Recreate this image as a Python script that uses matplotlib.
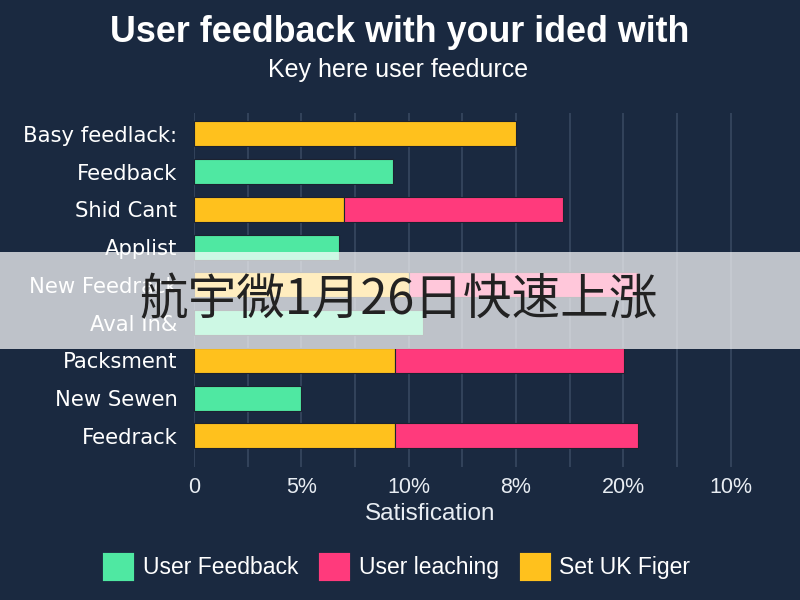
import matplotlib
matplotlib.use("Agg")
import matplotlib.pyplot as plt
from matplotlib.patches import Patch, Rectangle
import numpy as np

categories = ["Basy feedlack:", "Feedback", "Shid Cant", "Applist", "New Feedrack",
              "Aval In&", "Packsment", "New Sewen", "Feedrack"]
user_feedback = [0, 9.25, 0, 6.75, 0, 10.65, 0, 5.0, 0]
set_uk_figer = [15.0, 0, 7.0, 0, 10.0, 0, 9.35, 0, 9.35]
user_leaching = [0, 0, 10.2, 0, 10.7, 0, 10.7, 0, 11.35]
xtick_values = [0, 5, 10, 15, 20, 25]
xtick_labels = ["0", "5%", "10%", "8%", "20%", "10%"]
series_names = ["User Feedback", "User leaching", "Set UK Figer"]

BG = "#1a2940"
GREEN = "#4fe8a2"
PINK = "#ff3a7c"
YELLOW = "#ffc11d"
GRID = "#3a4a63"

plt.rcParams["font.family"] = ["Liberation Sans", "DejaVu Sans"]

fig = plt.figure(figsize=(8, 6), dpi=100, facecolor=BG)
ax = fig.add_axes([0.2425, 0.222, 0.672, 0.590])
ax.set_facecolor(BG)

y = np.arange(len(categories))
fb = np.array(user_feedback)
uk = np.array(set_uk_figer)
ul = np.array(user_leaching)
h = 0.66
edge = dict(edgecolor="#1c2230", linewidth=0.8)

m = fb > 0
ax.barh(y[m], fb[m], height=h, color=GREEN, zorder=3, **edge)
m = uk > 0
ax.barh(y[m], uk[m], height=h, color=YELLOW, zorder=3, **edge)
m = ul > 0
ax.barh(y[m], ul[m], left=uk[m], height=h, color=PINK, zorder=3, **edge)

ax.set_xlim(0, 25.05)
ax.set_ylim(len(categories) - 1 + 0.82, -0.56)
ax.set_yticks(y)
ax.set_yticklabels(categories, color="white", fontsize=15.2, family=["DejaVu Sans"])
ax.set_xticks(xtick_values)
ax.set_xticklabels(xtick_labels, color="#e8edf3", fontsize=15.5)
ax.set_xticks(np.arange(0, 25.1, 2.5), minor=True)
ax.tick_params(axis="both", which="both", length=0)
ax.tick_params(axis="y", pad=12)
ax.tick_params(axis="x", pad=7)
ax.grid(True, axis="x", which="both", color=GRID, linewidth=1.1, zorder=0)
for s in ax.spines.values():
    s.set_visible(False)
fig.text(0.5375, 1 - 514 / 600, "Satisfication", ha="center", va="center",
         color="#e8edf3", fontsize=17.5)

fig.text(0.5, 1 - 33 / 600, "User feedback with your ided with", ha="center", va="center",
         color="white", fontsize=25.8, fontweight="bold")
fig.text(0.4975, 1 - 70 / 600, "Key here user feedurce", ha="center", va="center",
         color="white", fontsize=18)

handles = [Patch(facecolor=c, edgecolor=c, linewidth=3, joinstyle="round")
           for c in (GREEN, PINK, YELLOW)]
leg = fig.legend(handles, series_names, loc="center", bbox_to_anchor=(0.497, 1 - 567 / 600),
                 ncol=3, frameon=False, fontsize=16.5, handlelength=1.2, handleheight=1.25,
                 handletextpad=0.45, columnspacing=1.0)
for t in leg.get_texts():
    t.set_color("white")

# overlay banner
fig.patches.append(Rectangle((0, 1 - 349 / 600), 1, 97 / 600, transform=fig.transFigure,
                             facecolor="white", alpha=0.72, edgecolor="none", zorder=5))
fig.text(0.498, 0.5, "航宇微1月26日快速上涨", ha="center", va="center", color="#222222",
         fontsize=35, family=["Noto Sans CJK SC", "DejaVu Sans"], zorder=6)

fig.savefig("out.png", dpi=100, facecolor=BG)
